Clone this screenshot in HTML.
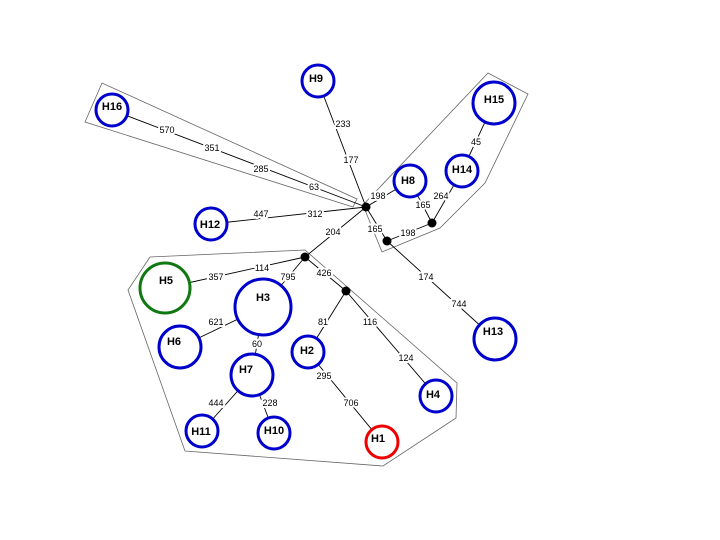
<!DOCTYPE html><html><head><style>body{margin:0;background:#fff}svg{display:block}
.e{font:9px "Liberation Sans",sans-serif;text-anchor:middle;fill:#000;stroke:#fff;stroke-width:4px;paint-order:stroke;stroke-linejoin:round}
.n{font:bold 11px "Liberation Sans",sans-serif;text-anchor:middle;fill:#000}
</style></head><body>
<svg width="720" height="540" viewBox="0 0 720 540">
<g fill="none" stroke="#666" stroke-width="0.8">
<polygon points="85,122 102,83 357,199 353,207"/>
<polygon points="488,73 528,94 485,183 440,228 382,252 363,205"/>
<polygon points="150,257 305,250 457,383 456,418 383,466 185,451 128,290"/>
</g>
<g stroke="#000" stroke-width="0.9">
<line x1="112" y1="110" x2="366" y2="207"/>
<line x1="318" y1="81" x2="366" y2="207"/>
<line x1="211" y1="224" x2="366" y2="207"/>
<line x1="410" y1="181" x2="366" y2="207"/>
<line x1="366" y1="207" x2="387" y2="241"/>
<line x1="387" y1="241" x2="432" y2="223"/>
<line x1="410" y1="181" x2="432" y2="223"/>
<line x1="462" y1="171" x2="432" y2="223"/>
<line x1="462" y1="171" x2="494" y2="103"/>
<line x1="366" y1="207" x2="305" y2="257"/>
<line x1="387" y1="241" x2="495" y2="339"/>
<line x1="305" y1="257" x2="165" y2="288"/>
<line x1="305" y1="257" x2="263" y2="307"/>
<line x1="305" y1="257" x2="346" y2="291"/>
<line x1="346" y1="291" x2="308" y2="352"/>
<line x1="346" y1="291" x2="436" y2="396"/>
<line x1="263" y1="307" x2="180" y2="347"/>
<line x1="263" y1="307" x2="252" y2="375"/>
<line x1="308" y1="352" x2="382" y2="442"/>
<line x1="252" y1="375" x2="202" y2="431"/>
<line x1="252" y1="375" x2="274" y2="433"/>
</g>
<g class="e">
<text x="167" y="133">570</text><text x="212" y="151">351</text><text x="261" y="172">285</text><text x="314" y="190">63</text>
<text x="343" y="127">233</text><text x="351" y="163">177</text>
<text x="261" y="217">447</text><text x="315" y="217">312</text>
<text x="378" y="199">198</text><text x="375" y="232">165</text><text x="408" y="236">198</text>
<text x="423" y="208">165</text><text x="441" y="199">264</text><text x="476" y="145">45</text>
<text x="333" y="235">204</text><text x="426" y="280">174</text><text x="459" y="307">744</text>
<text x="262" y="271">114</text><text x="216" y="280">357</text><text x="288" y="280">795</text>
<text x="324" y="276">426</text><text x="323" y="325">81</text><text x="370" y="325">116</text>
<text x="406" y="361">124</text><text x="216" y="325">621</text><text x="257" y="347">60</text>
<text x="324" y="379">295</text><text x="351" y="406">706</text><text x="216" y="406">444</text>
<text x="270" y="406">228</text>
</g>
<g fill="#000"><circle cx="366" cy="207" r="4.5"/><circle cx="387" cy="241" r="4.5"/><circle cx="432" cy="223" r="4.5"/><circle cx="305" cy="257" r="4.5"/><circle cx="346" cy="291" r="4.5"/></g>
<g stroke-width="3" fill="#fff">
<circle cx="112" cy="110" r="16" stroke="#0000cc"/>
<circle cx="318" cy="81" r="16" stroke="#0000cc"/>
<circle cx="211" cy="224" r="16" stroke="#0000cc"/>
<circle cx="494" cy="103" r="21" stroke="#0000cc"/>
<circle cx="462" cy="171" r="16" stroke="#0000cc"/>
<circle cx="410" cy="181" r="16" stroke="#0000cc"/>
<circle cx="165" cy="288" r="25" stroke="#117711"/>
<circle cx="263" cy="307" r="28" stroke="#0000cc"/>
<circle cx="180" cy="347" r="21" stroke="#0000cc"/>
<circle cx="252" cy="375" r="21" stroke="#0000cc"/>
<circle cx="308" cy="352" r="16" stroke="#0000cc"/>
<circle cx="436" cy="396" r="16" stroke="#0000cc"/>
<circle cx="495" cy="339" r="21" stroke="#0000cc"/>
<circle cx="202" cy="431" r="16" stroke="#0000cc"/>
<circle cx="274" cy="433" r="16" stroke="#0000cc"/>
<circle cx="382" cy="442" r="16" stroke="#ee0000"/>
</g>
<g class="n">
<text x="112" y="110">H16</text><text x="316" y="82">H9</text><text x="210" y="228">H12</text>
<text x="494" y="103">H15</text><text x="462" y="173">H14</text><text x="408" y="184">H8</text>
<text x="166" y="284">H5</text><text x="263" y="301">H3</text><text x="174" y="345">H6</text>
<text x="246" y="373">H7</text><text x="307" y="354">H2</text><text x="433" y="398">H4</text>
<text x="493" y="335">H13</text><text x="201" y="435">H11</text><text x="274" y="434">H10</text>
<text x="378" y="442">H1</text>
</g>
</svg></body></html>
